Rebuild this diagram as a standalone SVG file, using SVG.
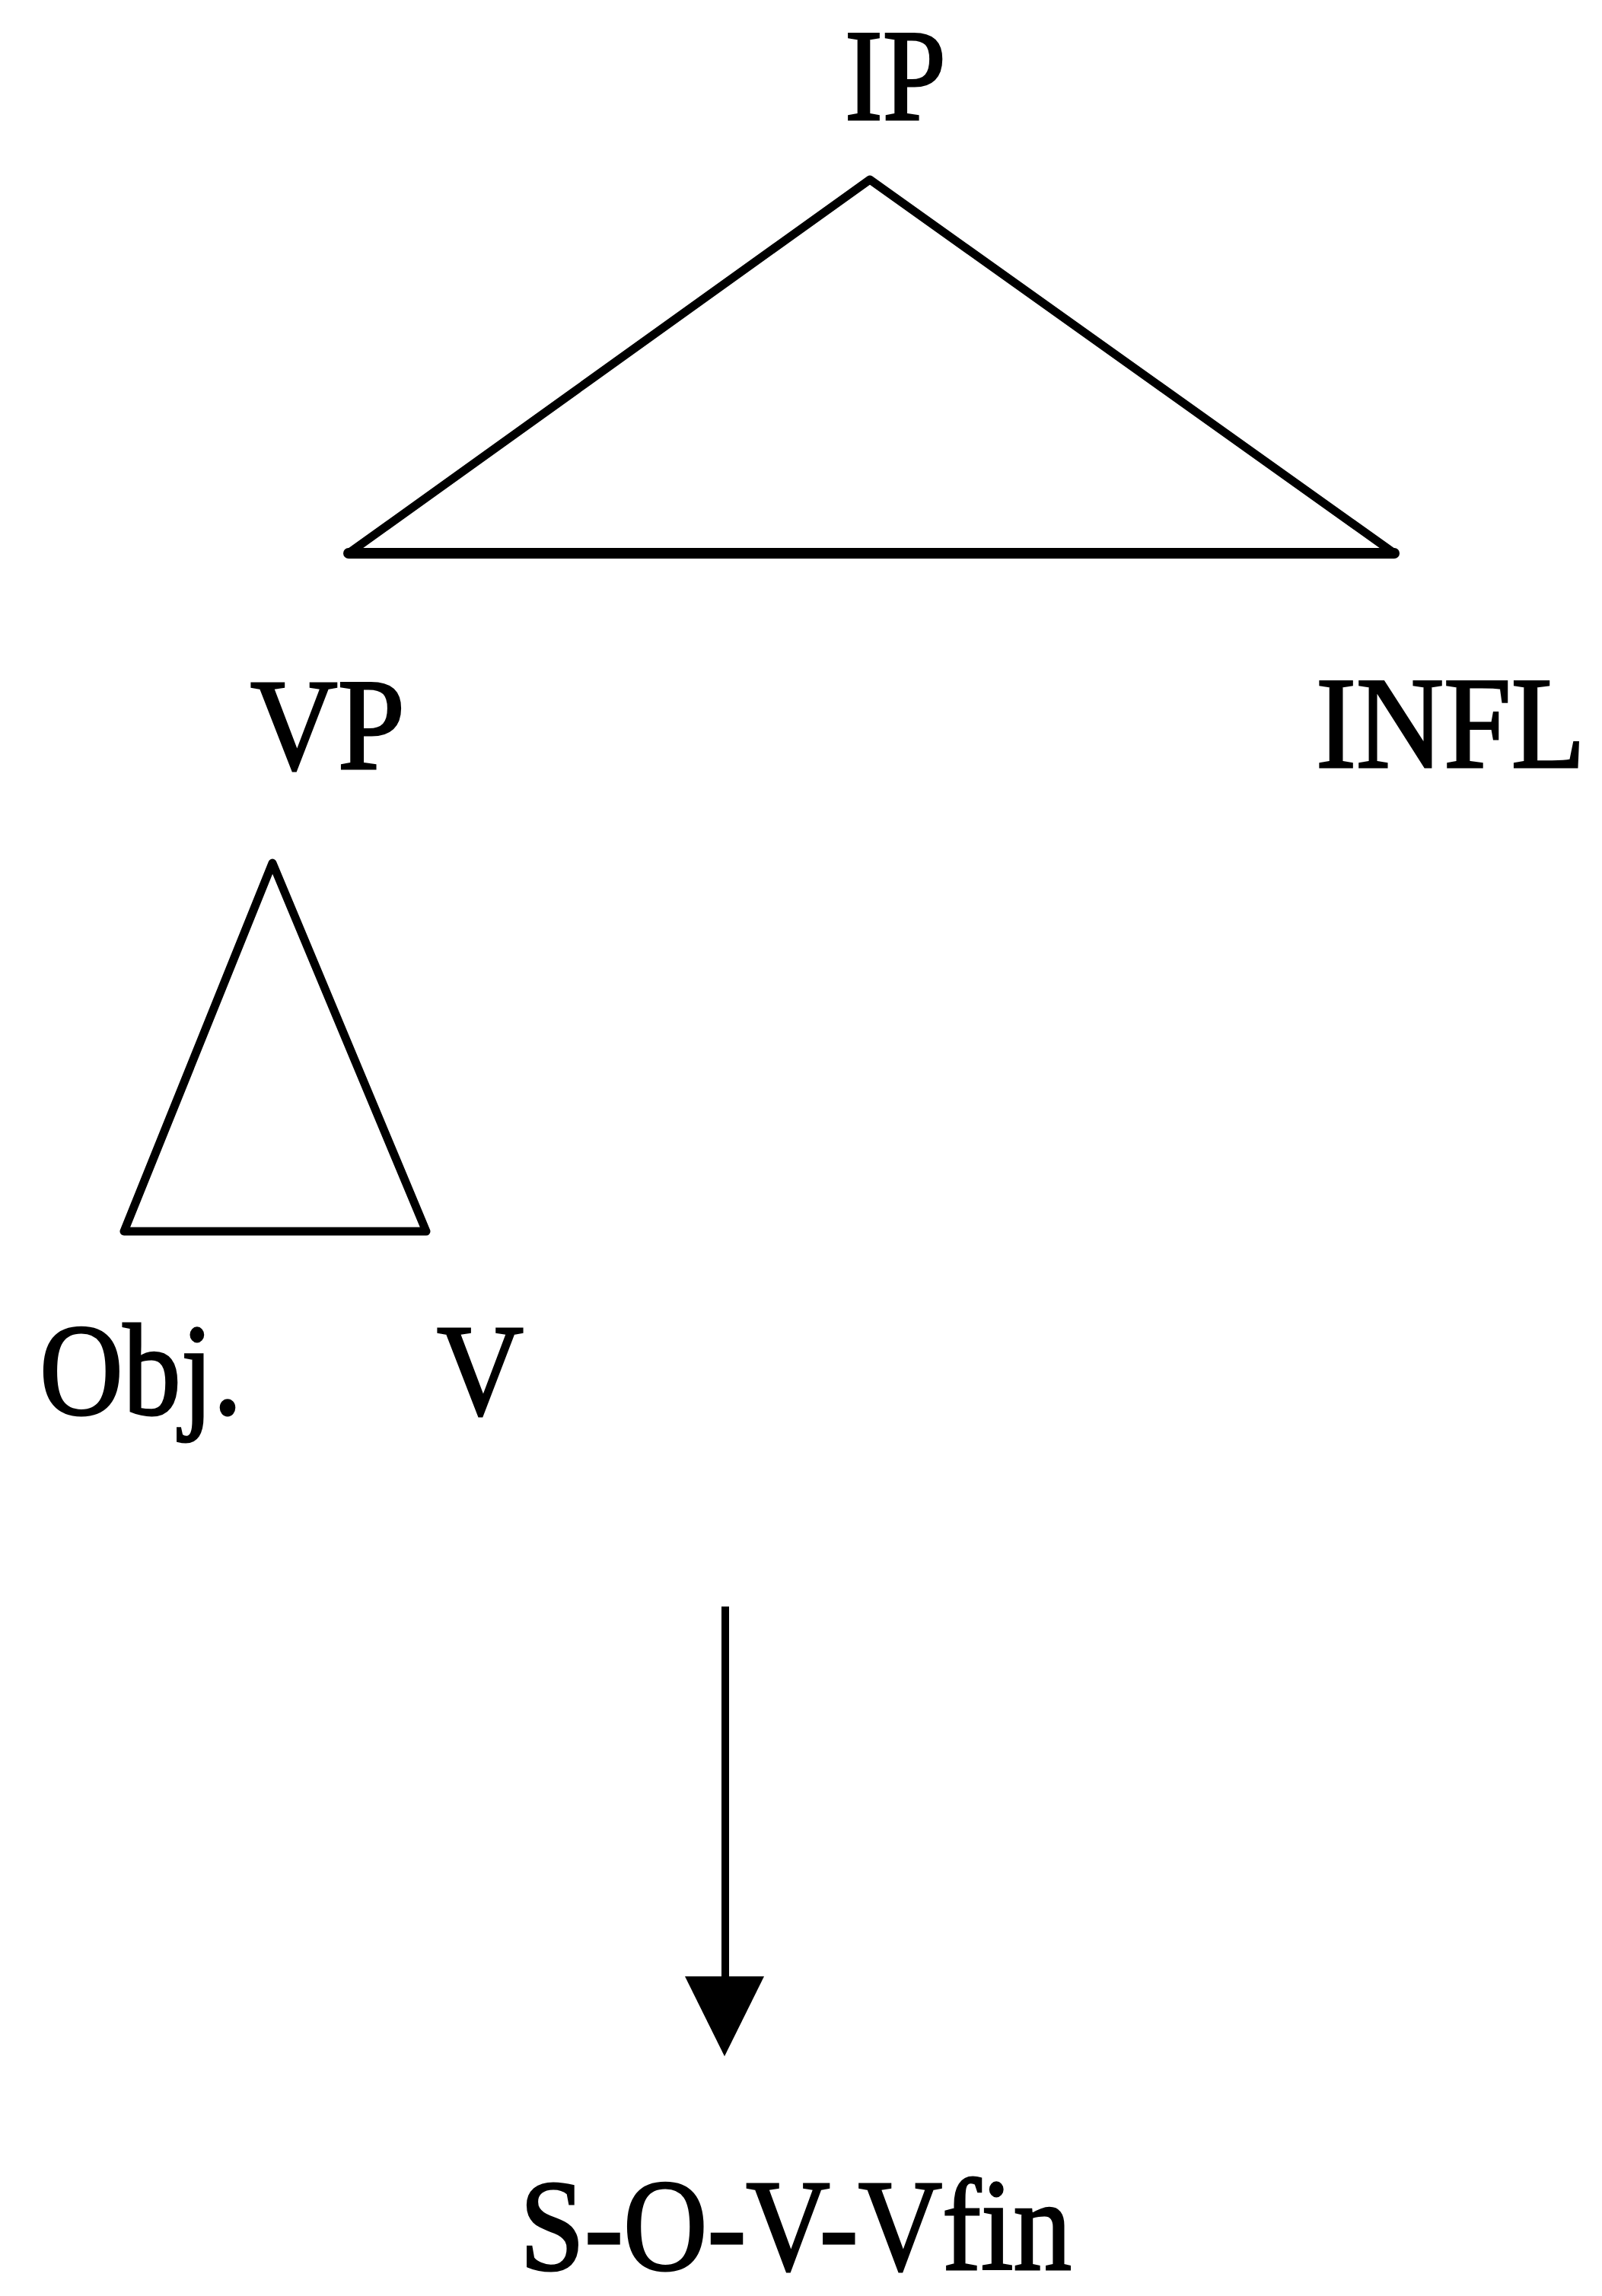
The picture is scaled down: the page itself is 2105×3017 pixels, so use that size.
<svg xmlns="http://www.w3.org/2000/svg" width="2105" height="3017" viewBox="0 0 2105 3017">
  <style>
    .lbl { font-family: "Liberation Serif", "Times New Roman", serif; font-size: 171px; fill: #000; stroke: #000; stroke-width: 3; }
    .tri { fill: none; stroke: #000; stroke-width: 11; stroke-linejoin: round; }
    .conn { stroke: #000; stroke-width: 10; fill: none; }
  </style>
  <rect width="2105" height="3017" fill="#fff"/>

  <g id="node-ip">
    <text class="lbl" x="1110" y="157" textLength="133" lengthAdjust="spacingAndGlyphs">IP</text>
    <polygon class="tri" points="1143,236 458,727 1832,727"/>
    <!-- heavier base stroke -->
    <line x1="458" y1="727" x2="1832" y2="727" stroke="#000" stroke-width="14" stroke-linecap="round"/>
  </g>

  <g id="node-vp">
    <text class="lbl" x="329" y="1010" textLength="203" lengthAdjust="spacingAndGlyphs">VP</text>
    <polygon class="tri" points="358,1134 163,1618 560,1618"/>
  </g>

  <g id="node-infl">
    <text class="lbl" x="1729" y="1008" textLength="354" lengthAdjust="spacingAndGlyphs">INFL</text>
  </g>

  <g id="node-obj">
    <text class="lbl" x="52" y="1858" textLength="266" lengthAdjust="spacingAndGlyphs">Obj.</text>
  </g>

  <g id="node-v">
    <text class="lbl" x="574" y="1858" textLength="114" lengthAdjust="spacingAndGlyphs">V</text>
  </g>

  <g id="node-order">
    <text class="lbl" x="683" y="2982" textLength="725" lengthAdjust="spacingAndGlyphs">S-O-V-Vfin</text>
  </g>

  <g id="connectors">
    <line class="conn" x1="953" y1="2111" x2="953" y2="2600"/>
    <polygon points="900,2597 1004,2597 952,2702" fill="#000"/>
  </g>
</svg>
